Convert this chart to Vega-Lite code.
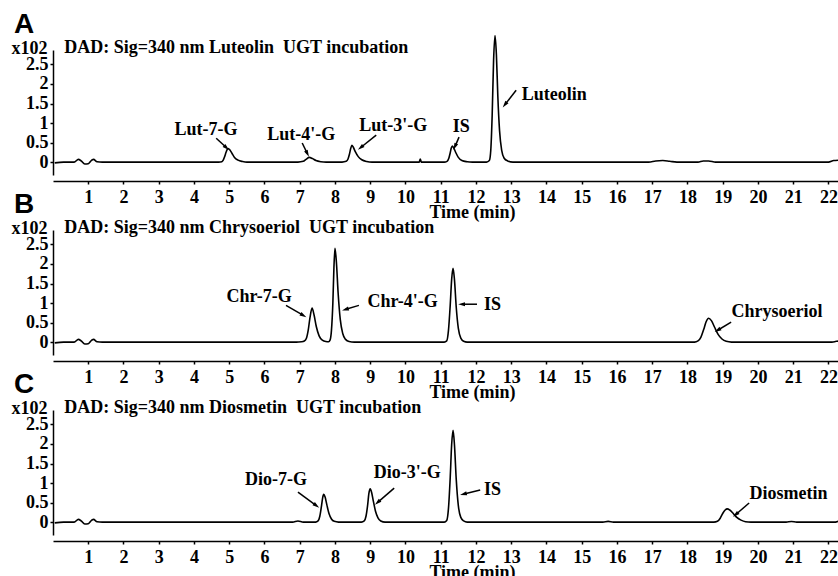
{
  "$schema": "https://vega.github.io/schema/vega-lite/v6.json",
  "background": "white",
  "padding": {"left": 11, "top": 11, "right": 0, "bottom": 0},
  "bounds": "flush",
  "spacing": 55,
  "config": {
    "view": {"stroke": null},
    "font": "Liberation Serif",
    "axis": {
      "grid": false,
      "labelOverlap": false,
      "domainColor": "black",
      "domainWidth": 1.5,
      "tickColor": "black",
      "tickWidth": 1.5,
      "labelColor": "black",
      "labelFont": "Liberation Serif",
      "labelFontWeight": "bold",
      "labelFontSize": 18,
      "titleColor": "black",
      "titleFont": "Liberation Serif",
      "titleFontWeight": "bold",
      "titleFontSize": 18
    }
  },
  "datasets": {
    "trace": [
      {"p":"A","t":0.05,"v":-0.02},{"p":"A","t":0.3,"v":0},{"p":"A","t":0.6,"v":0},{"p":"A","t":0.72,"v":0.07},{"p":"A","t":0.8,"v":0.03},{"p":"A","t":0.9,"v":-0.05},{"p":"A","t":1.0,"v":-0.04},{"p":"A","t":1.1,"v":0.05},{"p":"A","t":1.15,"v":0.07},{"p":"A","t":1.25,"v":0.01},{"p":"A","t":1.4,"v":0},
      {"p":"A","t":4.7,"v":0},{"p":"A","t":4.79,"v":0.01},{"p":"A","t":4.83,"v":0.05},{"p":"A","t":4.87,"v":0.14},{"p":"A","t":4.91,"v":0.25},{"p":"A","t":4.94,"v":0.32},{"p":"A","t":4.97,"v":0.35},{"p":"A","t":5.02,"v":0.31},{"p":"A","t":5.08,"v":0.22},{"p":"A","t":5.15,"v":0.12},{"p":"A","t":5.25,"v":0.05},{"p":"A","t":5.38,"v":0.015},{"p":"A","t":5.5,"v":0},
      {"p":"A","t":6.95,"v":0},{"p":"A","t":7.1,"v":0.02},{"p":"A","t":7.18,"v":0.07},{"p":"A","t":7.27,"v":0.12},{"p":"A","t":7.36,"v":0.09},{"p":"A","t":7.46,"v":0.04},{"p":"A","t":7.6,"v":0.01},{"p":"A","t":7.75,"v":0},
      {"p":"A","t":8.2,"v":0},{"p":"A","t":8.32,"v":0.02},{"p":"A","t":8.37,"v":0.08},{"p":"A","t":8.41,"v":0.2},{"p":"A","t":8.45,"v":0.36},{"p":"A","t":8.48,"v":0.43},{"p":"A","t":8.52,"v":0.38},{"p":"A","t":8.58,"v":0.26},{"p":"A","t":8.66,"v":0.14},{"p":"A","t":8.76,"v":0.06},{"p":"A","t":8.9,"v":0.015},{"p":"A","t":9.05,"v":0},
      {"p":"A","t":10.39,"v":0},{"p":"A","t":10.42,"v":0.08},{"p":"A","t":10.45,"v":0},
      {"p":"A","t":11.1,"v":0},{"p":"A","t":11.18,"v":0.02},{"p":"A","t":11.23,"v":0.1},{"p":"A","t":11.27,"v":0.24},{"p":"A","t":11.3,"v":0.36},{"p":"A","t":11.33,"v":0.41},{"p":"A","t":11.37,"v":0.36},{"p":"A","t":11.43,"v":0.24},{"p":"A","t":11.5,"v":0.12},{"p":"A","t":11.6,"v":0.04},{"p":"A","t":11.75,"v":0.01},{"p":"A","t":11.9,"v":0},
      {"p":"A","t":12.3,"v":0},{"p":"A","t":12.38,"v":0.04},{"p":"A","t":12.42,"v":0.3},{"p":"A","t":12.46,"v":1.2},{"p":"A","t":12.5,"v":2.6},{"p":"A","t":12.54,"v":3.24},{"p":"A","t":12.58,"v":2.75},{"p":"A","t":12.62,"v":1.7},{"p":"A","t":12.67,"v":0.8},{"p":"A","t":12.73,"v":0.3},{"p":"A","t":12.8,"v":0.1},{"p":"A","t":12.9,"v":0.03},{"p":"A","t":13.05,"v":0},
      {"p":"A","t":16.9,"v":0},{"p":"A","t":17.1,"v":0.03},{"p":"A","t":17.3,"v":0.04},{"p":"A","t":17.5,"v":0.02},{"p":"A","t":17.7,"v":0},{"p":"A","t":18.3,"v":0},{"p":"A","t":18.45,"v":0.03},{"p":"A","t":18.6,"v":0.03},{"p":"A","t":18.8,"v":0},{"p":"A","t":22.0,"v":0},{"p":"A","t":22.15,"v":0.04},{"p":"A","t":22.3,"v":0.05},

      {"p":"B","t":0.05,"v":-0.02},{"p":"B","t":0.3,"v":0},{"p":"B","t":0.6,"v":0},{"p":"B","t":0.72,"v":0.07},{"p":"B","t":0.8,"v":0.03},{"p":"B","t":0.9,"v":-0.05},{"p":"B","t":1.0,"v":-0.04},{"p":"B","t":1.1,"v":0.05},{"p":"B","t":1.15,"v":0.07},{"p":"B","t":1.25,"v":0.01},{"p":"B","t":1.4,"v":0},
      {"p":"B","t":6.9,"v":0},{"p":"B","t":7.05,"v":0.01},{"p":"B","t":7.13,"v":0.03},{"p":"B","t":7.19,"v":0.1},{"p":"B","t":7.24,"v":0.3},{"p":"B","t":7.29,"v":0.62},{"p":"B","t":7.35,"v":0.87},{"p":"B","t":7.41,"v":0.68},{"p":"B","t":7.47,"v":0.4},{"p":"B","t":7.55,"v":0.16},{"p":"B","t":7.64,"v":0.05},{"p":"B","t":7.74,"v":0.015},{"p":"B","t":7.82,"v":0.01},
      {"p":"B","t":7.86,"v":0.05},{"p":"B","t":7.9,"v":0.3},{"p":"B","t":7.94,"v":1.0},{"p":"B","t":7.97,"v":1.9},{"p":"B","t":8.0,"v":2.4},{"p":"B","t":8.04,"v":2.05},{"p":"B","t":8.09,"v":1.25},{"p":"B","t":8.15,"v":0.58},{"p":"B","t":8.22,"v":0.22},{"p":"B","t":8.3,"v":0.07},{"p":"B","t":8.4,"v":0.015},{"p":"B","t":8.55,"v":0},
      {"p":"B","t":11.1,"v":0},{"p":"B","t":11.17,"v":0.03},{"p":"B","t":11.22,"v":0.3},{"p":"B","t":11.27,"v":0.95},{"p":"B","t":11.31,"v":1.6},{"p":"B","t":11.35,"v":1.89},{"p":"B","t":11.39,"v":1.6},{"p":"B","t":11.44,"v":0.9},{"p":"B","t":11.5,"v":0.35},{"p":"B","t":11.57,"v":0.1},{"p":"B","t":11.65,"v":0.02},{"p":"B","t":11.75,"v":0},
      {"p":"B","t":18.2,"v":0},{"p":"B","t":18.3,"v":0.03},{"p":"B","t":18.38,"v":0.12},{"p":"B","t":18.46,"v":0.32},{"p":"B","t":18.53,"v":0.52},{"p":"B","t":18.6,"v":0.61},{"p":"B","t":18.68,"v":0.55},{"p":"B","t":18.77,"v":0.38},{"p":"B","t":18.87,"v":0.2},{"p":"B","t":18.98,"v":0.08},{"p":"B","t":19.1,"v":0.02},{"p":"B","t":19.25,"v":0},
      {"p":"B","t":22.1,"v":0},{"p":"B","t":22.22,"v":0.02},{"p":"B","t":22.3,"v":0.03},

      {"p":"C","t":0.05,"v":-0.02},{"p":"C","t":0.3,"v":0},{"p":"C","t":0.6,"v":0},{"p":"C","t":0.72,"v":0.07},{"p":"C","t":0.8,"v":0.03},{"p":"C","t":0.9,"v":-0.05},{"p":"C","t":1.0,"v":-0.04},{"p":"C","t":1.1,"v":0.05},{"p":"C","t":1.15,"v":0.07},{"p":"C","t":1.25,"v":0.01},{"p":"C","t":1.4,"v":0},
      {"p":"C","t":6.8,"v":0},{"p":"C","t":6.95,"v":0.03},{"p":"C","t":7.1,"v":0},
      {"p":"C","t":7.45,"v":0},{"p":"C","t":7.52,"v":0.03},{"p":"C","t":7.57,"v":0.15},{"p":"C","t":7.62,"v":0.43},{"p":"C","t":7.65,"v":0.62},{"p":"C","t":7.68,"v":0.71},{"p":"C","t":7.72,"v":0.64},{"p":"C","t":7.77,"v":0.44},{"p":"C","t":7.83,"v":0.22},{"p":"C","t":7.9,"v":0.08},{"p":"C","t":7.98,"v":0.02},{"p":"C","t":8.1,"v":0},
      {"p":"C","t":8.75,"v":0},{"p":"C","t":8.83,"v":0.03},{"p":"C","t":8.88,"v":0.15},{"p":"C","t":8.93,"v":0.46},{"p":"C","t":8.96,"v":0.72},{"p":"C","t":9.0,"v":0.85},{"p":"C","t":9.04,"v":0.76},{"p":"C","t":9.09,"v":0.53},{"p":"C","t":9.15,"v":0.28},{"p":"C","t":9.22,"v":0.11},{"p":"C","t":9.3,"v":0.03},{"p":"C","t":9.42,"v":0},
      {"p":"C","t":11.1,"v":0},{"p":"C","t":11.17,"v":0.04},{"p":"C","t":11.22,"v":0.35},{"p":"C","t":11.27,"v":1.15},{"p":"C","t":11.31,"v":1.98},{"p":"C","t":11.35,"v":2.35},{"p":"C","t":11.39,"v":1.98},{"p":"C","t":11.44,"v":1.1},{"p":"C","t":11.5,"v":0.42},{"p":"C","t":11.57,"v":0.12},{"p":"C","t":11.65,"v":0.03},{"p":"C","t":11.75,"v":0},
      {"p":"C","t":15.6,"v":0},{"p":"C","t":15.75,"v":0.02},{"p":"C","t":15.9,"v":0},
      {"p":"C","t":18.75,"v":0},{"p":"C","t":18.85,"v":0.02},{"p":"C","t":18.93,"v":0.1},{"p":"C","t":19.0,"v":0.22},{"p":"C","t":19.07,"v":0.31},{"p":"C","t":19.13,"v":0.34},{"p":"C","t":19.2,"v":0.31},{"p":"C","t":19.3,"v":0.22},{"p":"C","t":19.4,"v":0.12},{"p":"C","t":19.52,"v":0.05},{"p":"C","t":19.65,"v":0.01},{"p":"C","t":19.8,"v":0},
      {"p":"C","t":20.8,"v":0},{"p":"C","t":20.95,"v":0.015},{"p":"C","t":21.1,"v":0},{"p":"C","t":22.2,"v":0},{"p":"C","t":22.3,"v":0.03}
    ],
    "labels": [
      {"p":"A","label":"Lut-7-G","t":4.34,"v":0.69},
      {"p":"A","label":"Lut-4'-G","t":7.04,"v":0.56},
      {"p":"A","label":"Lut-3'-G","t":9.65,"v":0.79},
      {"p":"A","label":"IS","t":11.58,"v":0.77},
      {"p":"A","label":"Luteolin","t":14.22,"v":1.59},
      {"p":"B","label":"Chr-7-G","t":5.85,"v":1.02},
      {"p":"B","label":"Chr-4'-G","t":9.92,"v":0.89},
      {"p":"B","label":"IS","t":12.47,"v":0.82},
      {"p":"B","label":"Chrysoeriol","t":20.54,"v":0.64},
      {"p":"C","label":"Dio-7-G","t":6.33,"v":0.95},
      {"p":"C","label":"Dio-3'-G","t":10.05,"v":1.12},
      {"p":"C","label":"IS","t":12.47,"v":0.69},
      {"p":"C","label":"Diosmetin","t":20.87,"v":0.6}
    ],
    "arrows": [
      {"p":"A","t0":4.63,"v0":0.61,"t1":4.91,"v1":0.38,"dir":132},
      {"p":"A","t0":7.07,"v0":0.49,"t1":7.21,"v1":0.23,"dir":153},
      {"p":"A","t0":9.17,"v0":0.69,"t1":8.74,"v1":0.38,"dir":231},
      {"p":"A","t0":11.52,"v0":0.64,"t1":11.41,"v1":0.41,"dir":204},
      {"p":"A","t0":13.14,"v0":1.84,"t1":12.83,"v1":1.48,"dir":218},
      {"p":"B","t0":6.61,"v0":0.94,"t1":7.09,"v1":0.69,"dir":120},
      {"p":"B","t0":8.68,"v0":0.94,"t1":8.31,"v1":0.84,"dir":253},
      {"p":"B","t0":12.03,"v0":0.97,"t1":11.61,"v1":0.97,"dir":270},
      {"p":"B","t0":19.24,"v0":0.51,"t1":18.87,"v1":0.31,"dir":238},
      {"p":"C","t0":6.95,"v0":0.77,"t1":7.46,"v1":0.43,"dir":126},
      {"p":"C","t0":9.68,"v0":0.87,"t1":9.22,"v1":0.51,"dir":229},
      {"p":"C","t0":12.12,"v0":0.82,"t1":11.66,"v1":0.72,"dir":256},
      {"p":"C","t0":19.75,"v0":0.49,"t1":19.38,"v1":0.2,"dir":230}
    ],
    "one": [{}]
  },
  "vconcat": [
    {
      "width": 786, "height": 125,
      "layer": [
        {
          "data": {"name": "trace"},
          "transform": [{"filter": "datum.p == 'A'"}],
          "mark": {"type": "line", "color": "black", "strokeWidth": 1.6, "interpolate": "monotone"},
          "encoding": {
            "x": {"field": "t", "type": "quantitative", "scale": {"domain": [0, 22.3], "nice": false, "zero": false},
                  "axis": {"values": [1,2,3,4,5,6,7,8,9,10,11,12,13,14,15,16,17,18,19,20,21,22], "tickCount": 40, "labelExpr": "datum.value + ''", "labelOverlap": false, "labelBound": false, "offset": 6, "tickSize": 3, "labelPadding": 4, "title": "Time (min)", "titleX": 419, "titleY": 36, "titleBaseline": "alphabetic", "titleAlign": "center", "titleAnchor": null}},
            "y": {"field": "v", "type": "quantitative", "scale": {"domain": [-0.33, 2.87], "nice": false, "zero": false},
                  "axis": {"values": [0, 0.5, 1, 1.5, 2, 2.5], "tickCount": 12, "labelOverlap": false, "labelBound": false, "labelExpr": "datum.value + ''", "tickSize": 3, "labelPadding": 2, "title": "x102", "titleAngle": 0, "titleAlign": "right", "titleBaseline": "alphabetic", "titleX": -6, "titleY": 3}}
          }
        },
        {
          "data": {"name": "arrows"},
          "transform": [{"filter": "datum.p == 'A'"}],
          "mark": {"type": "rule", "color": "black", "strokeWidth": 1.5},
          "encoding": {"x": {"field": "t0", "type": "quantitative"}, "y": {"field": "v0", "type": "quantitative"}, "x2": {"field": "t1"}, "y2": {"field": "v1"}}
        },
        {
          "data": {"name": "arrows"},
          "transform": [{"filter": "datum.p == 'A'"}],
          "mark": {"type": "point", "filled": true, "color": "black", "opacity": 1, "shape": "M0,-1L0.5,0.7L-0.5,0.7Z", "size": 64},
          "encoding": {"x": {"field": "t1", "type": "quantitative"}, "y": {"field": "v1", "type": "quantitative"}, "angle": {"field": "dir", "type": "quantitative", "scale": null}}
        },
        {
          "data": {"name": "labels"},
          "transform": [{"filter": "datum.p == 'A'"}],
          "mark": {"type": "text", "font": "Liberation Serif", "fontWeight": "bold", "fontSize": 18, "color": "black", "align": "center", "baseline": "alphabetic"},
          "encoding": {"x": {"field": "t", "type": "quantitative"}, "y": {"field": "v", "type": "quantitative"}, "text": {"field": "label"}}
        },
        {
          "data": {"name": "one"},
          "mark": {"type": "text", "font": "Liberation Serif", "fontWeight": "bold", "fontSize": 18, "color": "black", "align": "left", "baseline": "alphabetic"},
          "encoding": {"x": {"datum": 0.32, "type": "quantitative"}, "y": {"datum": 2.8, "type": "quantitative"}, "text": {"value": "DAD: Sig=340 nm Luteolin\u00a0 UGT incubation"}}
        },
        {
          "data": {"name": "one"},
          "mark": {"type": "text", "font": "Liberation Sans", "fontWeight": "bold", "fontSize": 28, "color": "black", "align": "left", "baseline": "alphabetic"},
          "encoding": {"x": {"datum": -1.11, "type": "quantitative"}, "y": {"datum": 3.3, "type": "quantitative"}, "text": {"value": "A"}}
        }
      ]
    },
    {
      "width": 786, "height": 125,
      "layer": [
        {
          "data": {"name": "trace"},
          "transform": [{"filter": "datum.p == 'B'"}],
          "mark": {"type": "line", "color": "black", "strokeWidth": 1.6, "interpolate": "monotone"},
          "encoding": {
            "x": {"field": "t", "type": "quantitative", "scale": {"domain": [0, 22.3], "nice": false, "zero": false},
                  "axis": {"values": [1,2,3,4,5,6,7,8,9,10,11,12,13,14,15,16,17,18,19,20,21,22], "tickCount": 40, "labelExpr": "datum.value + ''", "labelOverlap": false, "labelBound": false, "offset": 6, "tickSize": 3, "labelPadding": 4, "title": "Time (min)", "titleX": 419, "titleY": 36, "titleBaseline": "alphabetic", "titleAlign": "center", "titleAnchor": null}},
            "y": {"field": "v", "type": "quantitative", "scale": {"domain": [-0.33, 2.87], "nice": false, "zero": false},
                  "axis": {"values": [0, 0.5, 1, 1.5, 2, 2.5], "tickCount": 12, "labelOverlap": false, "labelBound": false, "labelExpr": "datum.value + ''", "tickSize": 3, "labelPadding": 2, "title": "x102", "titleAngle": 0, "titleAlign": "right", "titleBaseline": "alphabetic", "titleX": -6, "titleY": 3}}
          }
        },
        {
          "data": {"name": "arrows"},
          "transform": [{"filter": "datum.p == 'B'"}],
          "mark": {"type": "rule", "color": "black", "strokeWidth": 1.5},
          "encoding": {"x": {"field": "t0", "type": "quantitative"}, "y": {"field": "v0", "type": "quantitative"}, "x2": {"field": "t1"}, "y2": {"field": "v1"}}
        },
        {
          "data": {"name": "arrows"},
          "transform": [{"filter": "datum.p == 'B'"}],
          "mark": {"type": "point", "filled": true, "color": "black", "opacity": 1, "shape": "M0,-1L0.5,0.7L-0.5,0.7Z", "size": 64},
          "encoding": {"x": {"field": "t1", "type": "quantitative"}, "y": {"field": "v1", "type": "quantitative"}, "angle": {"field": "dir", "type": "quantitative", "scale": null}}
        },
        {
          "data": {"name": "labels"},
          "transform": [{"filter": "datum.p == 'B'"}],
          "mark": {"type": "text", "font": "Liberation Serif", "fontWeight": "bold", "fontSize": 18, "color": "black", "align": "center", "baseline": "alphabetic"},
          "encoding": {"x": {"field": "t", "type": "quantitative"}, "y": {"field": "v", "type": "quantitative"}, "text": {"field": "label"}}
        },
        {
          "data": {"name": "one"},
          "mark": {"type": "text", "font": "Liberation Serif", "fontWeight": "bold", "fontSize": 18, "color": "black", "align": "left", "baseline": "alphabetic"},
          "encoding": {"x": {"datum": 0.32, "type": "quantitative"}, "y": {"datum": 2.8, "type": "quantitative"}, "text": {"value": "DAD: Sig=340 nm Chrysoeriol\u00a0 UGT incubation"}}
        },
        {
          "data": {"name": "one"},
          "mark": {"type": "text", "font": "Liberation Sans", "fontWeight": "bold", "fontSize": 28, "color": "black", "align": "left", "baseline": "alphabetic"},
          "encoding": {"x": {"datum": -1.11, "type": "quantitative"}, "y": {"datum": 3.3, "type": "quantitative"}, "text": {"value": "B"}}
        }
      ]
    },
    {
      "width": 786, "height": 125,
      "layer": [
        {
          "data": {"name": "trace"},
          "transform": [{"filter": "datum.p == 'C'"}],
          "mark": {"type": "line", "color": "black", "strokeWidth": 1.6, "interpolate": "monotone"},
          "encoding": {
            "x": {"field": "t", "type": "quantitative", "scale": {"domain": [0, 22.3], "nice": false, "zero": false},
                  "axis": {"values": [1,2,3,4,5,6,7,8,9,10,11,12,13,14,15,16,17,18,19,20,21,22], "tickCount": 40, "labelExpr": "datum.value + ''", "labelOverlap": false, "labelBound": false, "offset": 6, "tickSize": 3, "labelPadding": 4, "title": "Time (min)", "titleX": 419, "titleY": 36, "titleBaseline": "alphabetic", "titleAlign": "center", "titleAnchor": null}},
            "y": {"field": "v", "type": "quantitative", "scale": {"domain": [-0.33, 2.87], "nice": false, "zero": false},
                  "axis": {"values": [0, 0.5, 1, 1.5, 2, 2.5], "tickCount": 12, "labelOverlap": false, "labelBound": false, "labelExpr": "datum.value + ''", "tickSize": 3, "labelPadding": 2, "title": "x102", "titleAngle": 0, "titleAlign": "right", "titleBaseline": "alphabetic", "titleX": -6, "titleY": 3}}
          }
        },
        {
          "data": {"name": "arrows"},
          "transform": [{"filter": "datum.p == 'C'"}],
          "mark": {"type": "rule", "color": "black", "strokeWidth": 1.5},
          "encoding": {"x": {"field": "t0", "type": "quantitative"}, "y": {"field": "v0", "type": "quantitative"}, "x2": {"field": "t1"}, "y2": {"field": "v1"}}
        },
        {
          "data": {"name": "arrows"},
          "transform": [{"filter": "datum.p == 'C'"}],
          "mark": {"type": "point", "filled": true, "color": "black", "opacity": 1, "shape": "M0,-1L0.5,0.7L-0.5,0.7Z", "size": 64},
          "encoding": {"x": {"field": "t1", "type": "quantitative"}, "y": {"field": "v1", "type": "quantitative"}, "angle": {"field": "dir", "type": "quantitative", "scale": null}}
        },
        {
          "data": {"name": "labels"},
          "transform": [{"filter": "datum.p == 'C'"}],
          "mark": {"type": "text", "font": "Liberation Serif", "fontWeight": "bold", "fontSize": 18, "color": "black", "align": "center", "baseline": "alphabetic"},
          "encoding": {"x": {"field": "t", "type": "quantitative"}, "y": {"field": "v", "type": "quantitative"}, "text": {"field": "label"}}
        },
        {
          "data": {"name": "one"},
          "mark": {"type": "text", "font": "Liberation Serif", "fontWeight": "bold", "fontSize": 18, "color": "black", "align": "left", "baseline": "alphabetic"},
          "encoding": {"x": {"datum": 0.32, "type": "quantitative"}, "y": {"datum": 2.8, "type": "quantitative"}, "text": {"value": "DAD: Sig=340 nm Diosmetin\u00a0 UGT incubation"}}
        },
        {
          "data": {"name": "one"},
          "mark": {"type": "text", "font": "Liberation Sans", "fontWeight": "bold", "fontSize": 28, "color": "black", "align": "left", "baseline": "alphabetic"},
          "encoding": {"x": {"datum": -1.11, "type": "quantitative"}, "y": {"datum": 3.3, "type": "quantitative"}, "text": {"value": "C"}}
        }
      ]
    }
  ]
}
